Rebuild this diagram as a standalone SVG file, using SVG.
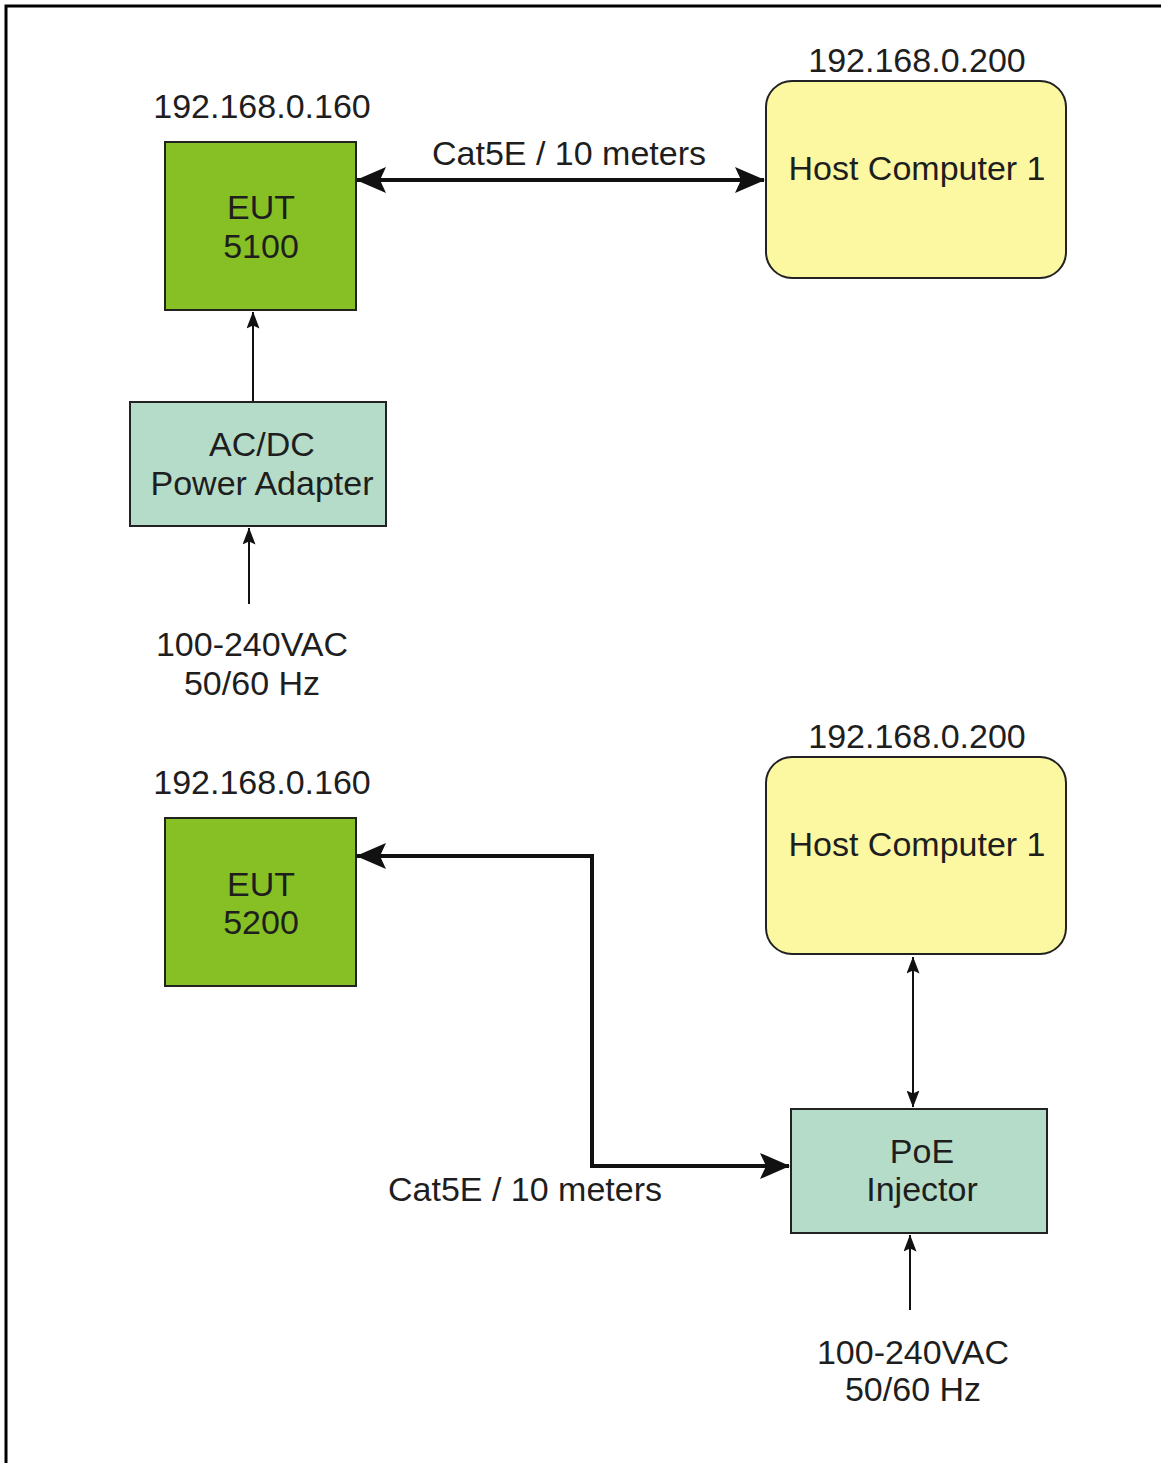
<svg xmlns="http://www.w3.org/2000/svg" width="1161" height="1463" viewBox="0 0 1161 1463">
<style>
text{font-family:"Liberation Sans",Arial,sans-serif;font-size:34px;fill:#1e1e1e;text-anchor:middle}
.eut{fill:#86c025;stroke:#222;stroke-width:2}
.host{fill:#fcf8a2;stroke:#222;stroke-width:2}
.box{fill:#b5dcc8;stroke:#222;stroke-width:2}
.thick{fill:none;stroke:#111;stroke-width:4}
.thin{fill:none;stroke:#111;stroke-width:2}
</style>
<defs>
<marker id="bigE" markerUnits="userSpaceOnUse" viewBox="0 0 30 26" refX="29" refY="13" markerWidth="30" markerHeight="26" orient="auto">
<path d="M0,0 L30,13 L0,26 L6,13 Z" fill="#111"/>
</marker>
<marker id="bigS" markerUnits="userSpaceOnUse" viewBox="0 0 30 26" refX="1" refY="13" markerWidth="30" markerHeight="26" orient="auto">
<path d="M30,0 L0,13 L30,26 L24,13 Z" fill="#111"/>
</marker>
<marker id="smE" markerUnits="userSpaceOnUse" viewBox="0 0 17 13" refX="16.5" refY="6.5" markerWidth="17" markerHeight="13" orient="auto">
<path d="M0,0 L17,6.5 L0,13 L3,6.5 Z" fill="#111"/>
</marker>
<marker id="smS" markerUnits="userSpaceOnUse" viewBox="0 0 17 13" refX="0.5" refY="6.5" markerWidth="17" markerHeight="13" orient="auto">
<path d="M17,0 L0,6.5 L17,13 L14,6.5 Z" fill="#111"/>
</marker>
</defs>
<rect x="0" y="0" width="1161" height="1463" fill="#fff"/>
<path d="M6,1463 V6 H1161" fill="none" stroke="#000" stroke-width="3"/>

<g id="connectors">
<path class="thick" d="M357,180 H764" marker-start="url(#bigS)" marker-end="url(#bigE)"/>
<path class="thin" d="M253,402 V312" marker-end="url(#smE)"/>
<path class="thin" d="M249,604 V528" marker-end="url(#smE)"/>
<path class="thick" d="M357,856 H592 V1166 H789" marker-start="url(#bigS)" marker-end="url(#bigE)"/>
<path class="thin" d="M913,957 V1107" marker-start="url(#smS)" marker-end="url(#smE)"/>
<path class="thin" d="M910,1310 V1235" marker-end="url(#smE)"/>
<text x="569" y="165">Cat5E / 10 meters</text>
<text x="525" y="1201">Cat5E / 10 meters</text>
</g>

<g id="eut5100">
<text x="262" y="118">192.168.0.160</text>
<rect class="eut" x="165" y="142" width="191" height="168"/>
<text x="261" y="219">EUT</text>
<text x="261" y="258">5100</text>
</g>

<g id="host1-top">
<text x="917" y="72">192.168.0.200</text>
<rect class="host" x="766" y="81" width="300" height="197" rx="26"/>
<text x="917" y="180">Host Computer 1</text>
</g>

<g id="acdc">
<rect class="box" x="130" y="402" width="256" height="124"/>
<text x="262" y="456">AC/DC</text>
<text x="262" y="495">Power Adapter</text>
</g>

<g id="ac-top">
<text x="252" y="656">100-240VAC</text>
<text x="252" y="695">50/60 Hz</text>
</g>

<g id="eut5200">
<text x="262" y="794">192.168.0.160</text>
<rect class="eut" x="165" y="818" width="191" height="168"/>
<text x="261" y="896">EUT</text>
<text x="261" y="934">5200</text>
</g>

<g id="host1-bottom">
<text x="917" y="748">192.168.0.200</text>
<rect class="host" x="766" y="757" width="300" height="197" rx="26"/>
<text x="917" y="856">Host Computer 1</text>
</g>

<g id="poe">
<rect class="box" x="791" y="1109" width="256" height="124"/>
<text x="922" y="1163">PoE</text>
<text x="922" y="1201">Injector</text>
</g>

<g id="ac-bottom">
<text x="913" y="1364">100-240VAC</text>
<text x="913" y="1401">50/60 Hz</text>
</g>
</svg>
